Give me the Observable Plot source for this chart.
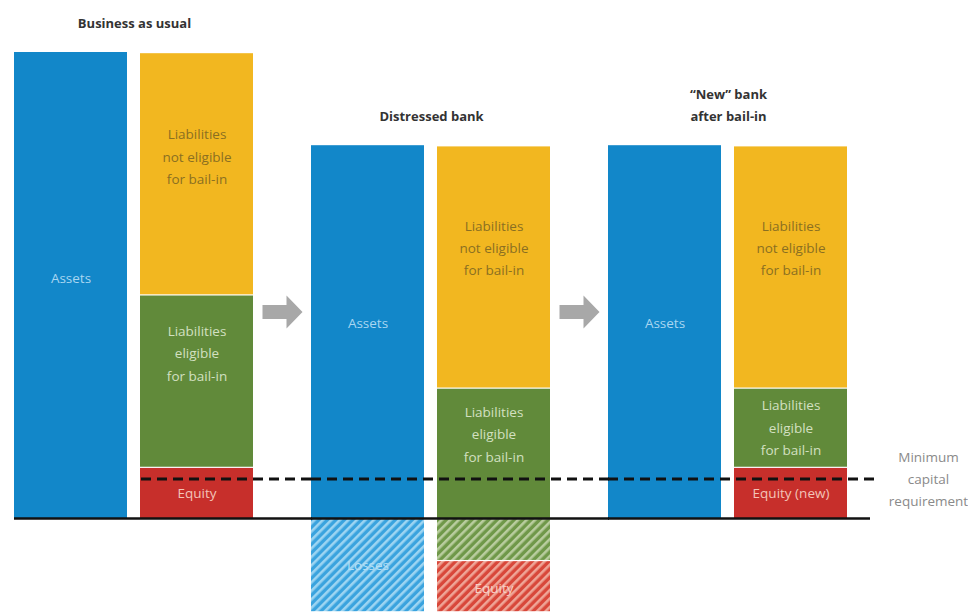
<!DOCTYPE html>
<html><head><meta charset="utf-8">
<script src="https://cdn.jsdelivr.net/npm/d3@7"></script>
<script src="https://cdn.jsdelivr.net/npm/@observablehq/plot@0.6"></script>
<style>html,body{margin:0;padding:0;background:#fff;} svg{display:block}</style>
</head><body><div id="chart"></div>
<script>
// ---- data ----
const groups = ["bau", "distressed", "new"];
const groupTitles = ["Business as usual", "Distressed bank", "\u201CNew\u201D bank\nafter bail-in"];
const sides = ["Assets", "Liabilities"];

const segGroup = ["bau","bau","bau","bau","distressed","distressed","distressed","distressed","distressed","distressed","new","new","new","new"];
const segSide  = ["Assets","Liabilities","Liabilities","Liabilities","Assets","Assets","Liabilities","Liabilities","Liabilities","Liabilities","Assets","Liabilities","Liabilities","Liabilities"];
const segKind  = ["assets","equity","eligible","notEligible","assets","losses","eligible","notEligible","eligibleLost","equityLost","assets","equity","eligible","notEligible"];
const segValue = [100, 11, 37, 52, 80, -20, 28, 52, -9, -11, 80, 11, 17, 52];
const segLabel = ["Assets","Equity","Liabilities\neligible\nfor bail-in","Liabilities\nnot eligible\nfor bail-in",
                  "Assets","Losses","Liabilities\neligible\nfor bail-in","Liabilities\nnot eligible\nfor bail-in","","Equity",
                  "Assets","Equity (new)","Liabilities\neligible\nfor bail-in","Liabilities\nnot eligible\nfor bail-in"];

const minCapital = 8.5;
const minCapitalLabel = "Minimum\ncapital\nrequirement";
const arrowGroups = ["distressed", "new"];
const arrowLevel = 44.3;

// ---- styles ----
const kindFill = {
  assets: "#1287c9", notEligible: "#f2b720", eligible: "#618a3a", equity: "#c72f2b",
  losses: "url(#hatchBlue)", eligibleLost: "url(#hatchGreen)", equityLost: "url(#hatchRed)"
};
const kindText = {
  assets: "#a9d6f1", notEligible: "#8a6f22", eligible: "#d3e0c1", equity: "#f3c4b8",
  losses: "#b5e0f6", eligibleLost: "#e8f0dc", equityLost: "#f8d0c6"
};
const labelNudge = {
  "bau|assets": -10, "bau|notEligible": -19, "bau|eligible": -30, "bau|equity": -2,
  "distressed|assets": -11, "distressed|losses": -2, "distressed|notEligible": -21, "distressed|eligible": -21, "distressed|equityLost": 0,
  "new|assets": -11, "new|notEligible": -21, "new|eligible": -2, "new|equity": -2
};

// ---- derived table (stacking) ----
const rows = segGroup.map((g, i) => ({group: g, side: segSide[i], kind: segKind[i], value: segValue[i], label: segLabel[i]}));
const posTop = new Map(), negTop = new Map();
for (const r of rows) {
  const k = r.group + "|" + r.side;
  const m = r.value >= 0 ? posTop : negTop;
  const b = m.get(k) || 0;
  r.y1 = b; r.y2 = b + r.value; m.set(k, r.y2);
  r.mid = (r.y1 + r.y2) / 2;
}
const titles = groups.map((g, i) => ({group: g, title: groupTitles[i], top: d3.max(rows.filter(r => r.group === g), r => r.y2)}));

const arrowSymbol = {
  draw(ctx, size) {
    const s = Math.sqrt(size / Math.PI) / 20;
    ctx.moveTo(-20 * s, -7 * s);
    ctx.lineTo(4 * s, -7 * s);
    ctx.lineTo(4 * s, -16.5 * s);
    ctx.lineTo(20 * s, 0);
    ctx.lineTo(4 * s, 16.5 * s);
    ctx.lineTo(4 * s, 7 * s);
    ctx.lineTo(-20 * s, 7 * s);
    ctx.closePath();
  }
};

const kinds = Object.keys(kindFill);
const liabKinds = new Set(["equity", "eligible", "notEligible", "eligibleLost", "equityLost"]);

const marks = [];
for (const k of kinds) {
  marks.push(Plot.barY(rows.filter(r => r.kind === k), {
    fx: "group", x: "side", y1: "y1", y2: "y2", fill: kindFill[k],
    insetTop: liabKinds.has(k) ? 1.2 : 0
  }));
}
for (const r of rows.filter(r => r.label)) {
  marks.push(Plot.text([r], {
    fx: "group", x: "side", y: "mid", text: "label",
    fill: kindText[r.kind], fontSize: 13.5, lineHeight: 1.66, lineAnchor: "middle",
    dy: labelNudge[r.group + "|" + r.kind] || 0
  }));
}
// titles
marks.push(Plot.text(titles, {
  fx: "group", y: "top", text: "title", frameAnchor: "middle", lineAnchor: "bottom",
  dy: -25, fontWeight: 700, fontSize: 13, lineHeight: 1.65, fill: "#333"
}));
// arrows
marks.push(Plot.dot(arrowGroups.map(g => ({group: g, level: arrowLevel})), {
  fx: "group", y: "level", frameAnchor: "left", dx: -29, symbol: arrowSymbol, r: 20,
  fill: "#a8a8a8", stroke: "none"
}));
// minimum capital dashed line
const mc = groups.map(g => ({group: g, v: minCapital}));
marks.push(Plot.ruleY(mc.filter(d => d.group === "bau"), {fx: "group", y: "v", stroke: "#111", strokeWidth: 3, strokeDasharray: "10,6", insetLeft: 127, insetRight: -58}));
marks.push(Plot.ruleY(mc.filter(d => d.group === "distressed"), {fx: "group", y: "v", stroke: "#111", strokeWidth: 3, strokeDasharray: "10,6", insetRight: -58}));
marks.push(Plot.ruleY(mc.filter(d => d.group === "new"), {fx: "group", y: "v", stroke: "#111", strokeWidth: 3, strokeDasharray: "10,6", insetRight: -26}));
marks.push(Plot.text(mc.filter(d => d.group === "new"), {
  fx: "group", y: "v", text: () => minCapitalLabel, frameAnchor: "right", textAnchor: "middle", dx: 80,
  fill: "#8a8a8a", fontSize: 13.5, lineHeight: 1.66, lineAnchor: "middle", dy: -2
}));
// baseline
const base = groups.map(g => ({group: g, v: 0}));
marks.push(Plot.ruleY(base.filter(d => d.group !== "new"), {fx: "group", y: "v", stroke: "#111", strokeWidth: 2.5, insetRight: -58}));
marks.push(Plot.ruleY(base.filter(d => d.group === "new"), {fx: "group", y: "v", stroke: "#111", strokeWidth: 2.5, insetRight: -22}));

const chart = Plot.plot({
  width: 968,
  height: 613,
  marginTop: 52,
  marginBottom: 1.8,
  marginLeft: 13,
  marginRight: 118,
  style: {fontFamily: "'Open Sans', sans-serif", background: "white"},
  fx: {domain: groups, paddingInner: 0.191, paddingOuter: 0, axis: null, label: null},
  x: {domain: sides, paddingInner: 0.102, paddingOuter: 0, axis: null, label: null},
  y: {domain: [-20, 100], axis: null, label: null},
  marks
});

// hatch patterns (style only)
const svg = d3.select(chart);
const defs = svg.insert("defs", ":first-child");
const hatches = [["hatchBlue", "#3aa3de", "#9dd5f2"], ["hatchGreen", "#6f9849", "#b9cd9f"], ["hatchRed", "#d8473a", "#efa597"]];
for (const [id, c1, c2] of hatches) {
  const p = defs.append("pattern").attr("id", id).attr("patternUnits", "userSpaceOnUse")
    .attr("width", 6).attr("height", 6).attr("patternTransform", "rotate(45)");
  p.append("rect").attr("width", 6).attr("height", 6).attr("fill", c1);
  p.append("rect").attr("width", 2.6).attr("height", 6).attr("fill", c2);
}
document.getElementById("chart").appendChild(chart);
</script>
</body></html>
